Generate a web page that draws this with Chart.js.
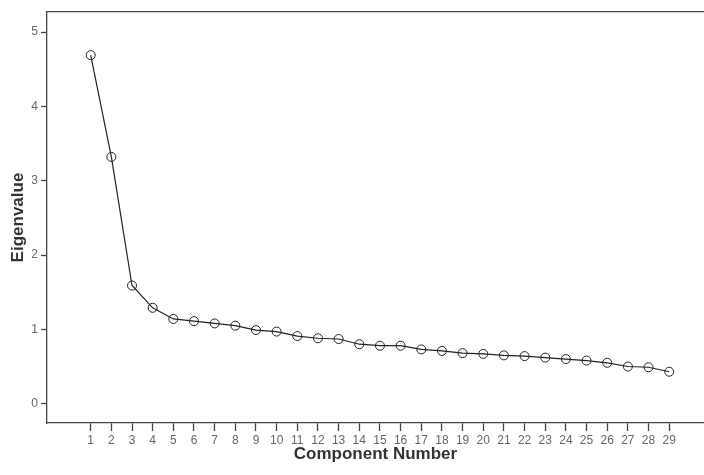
<!DOCTYPE html>
<html>
<head>
<meta charset="utf-8">
<script src="https://cdn.jsdelivr.net/npm/chart.js@4"></script>
<style>
  html, body { margin: 0; padding: 0; background: #fff; }
  #wrap { width: 704px; height: 475px; }
</style>
</head>
<body>
<div id="wrap"><canvas id="scree" width="704" height="475"></canvas></div>
<script>
// scree plot – eigenvalues per component
const components  = [1,2,3,4,5,6,7,8,9,10,11,12,13,14,15,16,17,18,19,20,21,22,23,24,25,26,27,28,29];
const eigenvalues = [4.69,3.32,1.59,1.29,1.14,1.11,1.08,1.05,0.99,0.97,0.91,0.88,0.87,0.80,0.78,0.78,
                     0.73,0.71,0.68,0.67,0.65,0.64,0.62,0.60,0.58,0.55,0.50,0.49,0.43];
const yTicks = [0,1,2,3,4,5];

const AXIS = '#444';
const TICK_TXT = '#666';
const FONT = "'Liberation Sans', Arial, sans-serif";

const points = components.map((c, i) => ({ x: c, y: eigenvalues[i] }));

// keep horizontal axes flush with the canvas edges
const noSidePad = h => s => { s.height = h; s.paddingLeft = 0; s.paddingRight = 0; };

new Chart(document.getElementById('scree').getContext('2d'), {
    type: 'line',
    data: { datasets: [{
        data: points,
        borderColor: '#222', borderWidth: 1.2,
        pointRadius: 4.5, pointBorderWidth: 1,
        pointBackgroundColor: 'rgba(255,255,255,0)', pointBorderColor: '#222',
        fill: false, tension: 0,
    }]},
    options: {
        responsive: false, animation: false, devicePixelRatio: 1,
        layout: { padding: 0, autoPadding: false },
        plugins: { legend: { display: false }, tooltip: { enabled: false } },
        scales: {
            x: {
                type: 'linear', min: -1.115, max: 30.685,
                afterFit: noSidePad(52),
                afterBuildTicks: s => { s.ticks = components.map(v => ({ value: v })); },
                grid: { drawOnChartArea: false, tickLength: 8, color: AXIS, tickWidth: 1.3 },
                border: { display: true, color: AXIS, width: 1.3 },
                ticks: { color: TICK_TXT, font: { family: FONT, size: 12 }, padding: 2,
                         autoSkip: false, maxRotation: 0, callback: v => v },
                title: { display: true, text: 'Component Number', color: '#333',
                         font: { family: FONT, size: 17, weight: 'bold' }, padding: { top: 0, bottom: 10 } },
            },
            top: {
                type: 'linear', position: 'top', min: 0, max: 1,
                afterFit: noSidePad(12),
                grid: { display: false },
                border: { display: true, color: AXIS, width: 1.3 },
                ticks: { display: false },
            },
            y: {
                min: -0.26, max: 5.27,
                afterFit: s => { s.width = 47; },
                afterBuildTicks: s => { s.ticks = yTicks.map(v => ({ value: v })); },
                grid: { drawOnChartArea: false, tickLength: 6, color: AXIS, tickWidth: 1.3 },
                border: { display: true, color: AXIS, width: 1.3 },
                ticks: { color: TICK_TXT, font: { family: FONT, size: 12 }, padding: 3 },
                title: { display: true, text: 'Eigenvalue', color: '#333',
                         font: { family: FONT, size: 17, weight: 'bold' }, padding: { top: 8, bottom: 0 } },
            },
        },
    },
});
</script>
</body>
</html>
